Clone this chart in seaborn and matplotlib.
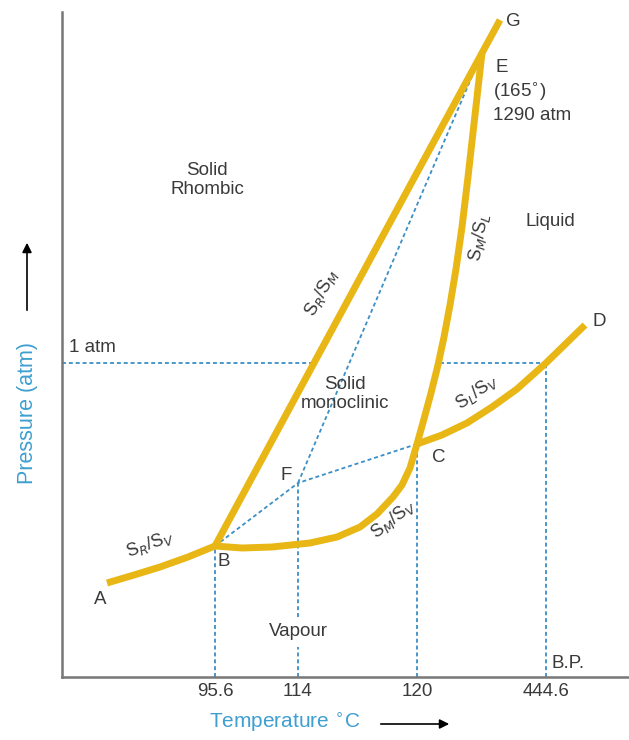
import numpy as np
import pandas as pd
import seaborn as sns
import matplotlib.pyplot as plt
from matplotlib.patches import FancyArrowPatch

# schematic coordinates (diagram is not to scale)
# curve points
ab_x = [45, 72, 98, 126, 153]
ab_y = [94, 102, 110, 120, 131]

# B -> C -> E  (S_M/S_V then S_M/S_L)
bce_x = [153, 180, 210, 248, 275, 298, 315, 331, 340, 348, 355, 362, 369, 376, 382, 388, 394, 400, 406, 413, 420]
bce_y = [131, 129, 130, 134, 140, 150, 163, 180, 192, 209, 233, 258, 284, 312, 340, 372, 408, 450, 500, 562, 624]

# B -> E -> G  (S_R/S_M)
bg_x = [153, 252, 351, 420, 438]
bg_y = [131, 314, 497, 624, 657]

# C -> D  (S_L/S_V)
cd_x = [355, 380, 405, 430, 455, 484, 523]
cd_y = [233, 242, 254, 270, 288, 314, 352]

# named points
pt_names = ['A', 'B', 'F', 'C', 'D', 'E', 'G']
pt_x = [45, 153, 236, 355, 523, 420, 438]
pt_y = [94, 131, 194, 233, 352, 624, 657]

one_atm = 314
bp_x = 484

tick_pos = [153, 236, 355, 484]
tick_labels = ['95.6', '114', '120', '444.6']

sns.set_style("white")
plt.rcParams['font.family'] = ['Liberation Sans', 'DejaVu Sans']

yellow = '#E8B716'
blue = '#3B8FC6'
grey = '#3a3a3a'

fig = plt.figure(figsize=(6.29, 7.40), dpi=100)
ax = fig.add_axes([62 / 629, 63 / 740, 567 / 629, 665 / 740])
P = dict(zip(pt_names, zip(pt_x, pt_y)))

# dotted helper lines
dot = dict(color=blue, lw=1.3, ls=(0, (2.2, 1.6)), zorder=1)
ax.plot([0, bg_x[1]], [one_atm, one_atm], **dot)
ax.plot([378, bp_x], [one_atm, one_atm], **dot)
ax.plot([P['B'][0]] * 2, [0, P['B'][1]], **dot)
ax.plot([P['F'][0]] * 2, [0, 30], **dot)
ax.plot([P['F'][0]] * 2, [60, P['F'][1]], **dot)
ax.plot([P['C'][0]] * 2, [0, P['C'][1]], **dot)
ax.plot([bp_x] * 2, [0, one_atm], **dot)
ax.plot([P['B'][0], P['F'][0]], [P['B'][1], P['F'][1]], **dot)
ax.plot([P['C'][0], P['F'][0]], [P['C'][1], P['F'][1]], **dot)
ax.plot([P['F'][0], P['E'][0]], [P['F'][1], P['E'][1]], **dot)

# phase boundary curves
for xs, ys in [(ab_x, ab_y), (bce_x, bce_y), (bg_x, bg_y), (cd_x, cd_y)]:
    d = pd.DataFrame({'x': xs, 'y': ys})
    sns.lineplot(data=d, x='x', y='y', sort=False, color=yellow, lw=5,
                 ax=ax, zorder=3, solid_capstyle='butt', solid_joinstyle='round')

# point labels
fs = 13.5
lbl_off = {'A': (-7, -16), 'B': (9, -16), 'F': (-12, 8), 'C': (22, -14),
           'D': (14, 3), 'E': (20, -14), 'G': (13, -1)}
for n in pt_names:
    dx, dy = lbl_off[n]
    ax.text(P[n][0] + dx, P[n][1] + dy, n, fontsize=fs, color=grey,
            ha='center', va='center')

ax.text(431, 586, '(165$^{\\circ}$)', fontsize=fs, color=grey, ha='left', va='center')
ax.text(431, 561, '1290 atm', fontsize=fs, color=grey, ha='left', va='center')

# region names
ax.text(145, 497, 'Solid\nRhombic', fontsize=fs, color=grey, ha='center', va='center',
        linespacing=1.1)
ax.text(488, 455, 'Liquid', fontsize=fs, color=grey, ha='center', va='center')
ax.text(283, 283, 'Solid\nmonoclinic', fontsize=fs, color=grey, ha='center', va='center',
        linespacing=1.1)
ax.text(236, 45, 'Vapour', fontsize=fs, color=grey, ha='center', va='center')
ax.text(7, 330, '1 atm', fontsize=fs, color=grey, ha='left', va='center')
ax.text(506, 14, 'B.P.', fontsize=fs, color=grey, ha='center', va='center')

# equilibrium labels along curves
eq = [(88, 133, 'S$_R$/S$_V$', 20), (260, 384, 'S$_R$/S$_M$', 61),
      (417, 440, 'S$_M$/S$_L$', 80), (415, 285, 'S$_L$/S$_V$', 35),
      (331, 158, 'S$_M$/S$_V$', 38)]
for x, y, s, r in eq:
    ax.text(x, y, s, fontsize=13, color=grey, rotation=r, ha='center', va='center')

ax.set_xlim(0, 567)
ax.set_ylim(0, 665)
ax.set_xticks(tick_pos)
ax.set_xticklabels(tick_labels, fontsize=fs, color=grey)
ax.set_yticks([])
ax.set(xlabel='', ylabel='')
ax.tick_params(axis='x', length=0, pad=4)
sns.despine(ax=ax)
for s in ['left', 'bottom']:
    ax.spines[s].set_color('#777777')
    ax.spines[s].set_linewidth(1.8)

# axis titles with arrows
lblue = '#3E9FD0'
fig.text(209 / 629, 1 - 722 / 740, 'Temperature $^{\\circ}$C', fontsize=15, color=lblue,
         ha='left', va='center')
fig.add_artist(FancyArrowPatch(
    (378 / 629, 1 - 724 / 740), (452 / 629, 1 - 724 / 740), transform=fig.transFigure,
    arrowstyle='-|>', mutation_scale=14, color='black', lw=1.2))
fig.text(27 / 629, 1 - 413 / 740, 'Pressure (atm)', fontsize=15.5, color=lblue,
         rotation=90, ha='center', va='center')
fig.add_artist(FancyArrowPatch(
    (27 / 629, 1 - 313 / 740), (27 / 629, 1 - 240 / 740), transform=fig.transFigure,
    arrowstyle='-|>', mutation_scale=14, color='black', lw=1.2))

fig.savefig('out.png', dpi=100)
